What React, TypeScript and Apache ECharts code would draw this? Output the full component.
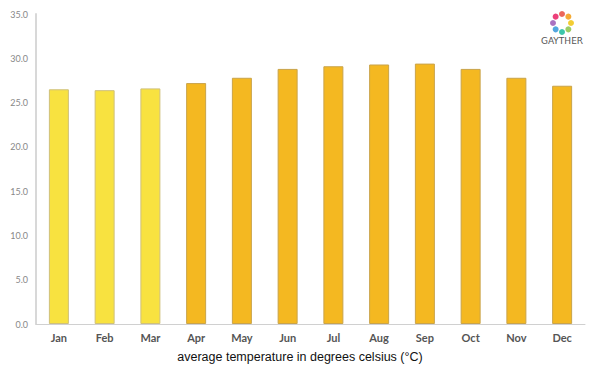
import React, { useEffect, useRef } from "react";
import * as echarts from "echarts";

const months = ["Jan", "Feb", "Mar", "Apr", "May", "Jun", "Jul", "Aug", "Sep", "Oct", "Nov", "Dec"];
const temps = [26.5, 26.4, 26.6, 27.2, 27.8, 28.8, 29.1, 29.3, 29.4, 28.8, 27.8, 26.9];
const coolMonths = ["Jan", "Feb", "Mar"];
const logoColors = ["#e84c3d", "#f39c12", "#f1c40f", "#8bc34a", "#1abc9c", "#3498db", "#9b59b6", "#e91e63"];

export default function App() {
  const ref = useRef<HTMLDivElement>(null);
  useEffect(() => {
    if (!ref.current) return;
    const chart = echarts.init(ref.current, null, { renderer: "svg" });
    const cx = 562, cy = 23, r = 9;
    const logo: any[] = logoColors.map((c, i) => {
      const a = (i / logoColors.length) * Math.PI * 2 - Math.PI / 2;
      return {
        type: "circle",
        shape: { cx: cx + r * Math.cos(a), cy: cy + r * Math.sin(a), r: 3 },
        style: { fill: c, opacity: 0.85 },
      };
    });
    logo.push({
      type: "text",
      x: cx,
      y: 36,
      style: { text: "GAYTHER", fill: "#555", font: "9px 'DejaVu Sans'", textAlign: "center", textVerticalAlign: "top" },
    });
    logo.push({
      type: "text",
      x: 300,
      y: 357,
      style: {
        text: "average temperature in degrees celsius (°C)",
        fill: "#111",
        font: "12.5px 'Liberation Sans'",
        textAlign: "center",
        textVerticalAlign: "middle",
      },
    });
    chart.setOption({
      animation: false,
      backgroundColor: "#fff",
      grid: { left: 36, right: 15, top: 14, bottom: 51, containLabel: false },
      graphic: logo,
      xAxis: {
        type: "category",
        data: months,
        axisLine: { lineStyle: { color: "#d0d0d0", width: 1 } },
        axisTick: { show: false },
        axisLabel: { color: "#555", fontWeight: "bold", fontSize: 11, fontFamily: "Lato", margin: 8 },
      },
      yAxis: {
        type: "value",
        min: 0,
        max: 35,
        interval: 5,
        axisLine: { show: true, lineStyle: { color: "#d8d8d8", width: 2 } },
        axisTick: { show: false },
        splitLine: { show: false },
        axisLabel: { color: "#888", fontSize: 9, fontFamily: "Lato", formatter: (v: number) => v.toFixed(1), margin: 8 },
      },
      series: [
        {
          type: "bar",
          barWidth: 20,
          data: temps.map((v, i) => ({
            value: v,
            itemStyle: {
              color: coolMonths.includes(months[i]) ? "#f8e240" : "#f4b821",
              borderColor: coolMonths.includes(months[i]) ? "#cfc07a" : "#c9a34a",
              borderWidth: 1,
            },
          })),
        },
      ],
    });
    return () => chart.dispose();
  }, []);
  return <div ref={ref} style={{ width: 600, height: 375, position: "absolute", left: 0, top: 0 }} />;
}
